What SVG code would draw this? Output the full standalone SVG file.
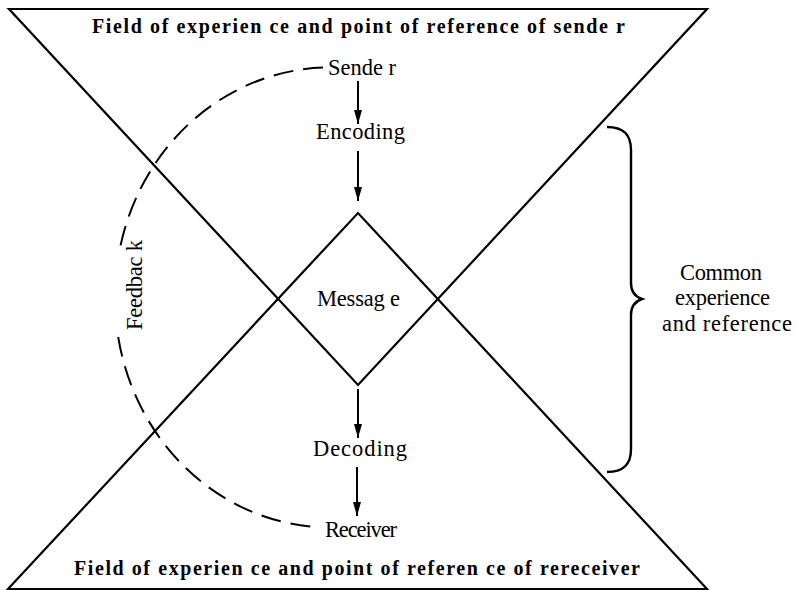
<svg xmlns="http://www.w3.org/2000/svg" width="796" height="590" viewBox="0 0 796 590">
<style>
.shape{fill:none;stroke:#000;stroke-width:2.2;stroke-linejoin:miter}
.hdr{font-family:"Liberation Serif","Times New Roman",serif;font-weight:bold;font-size:20px;fill:#000}
.lbl{font-family:"Liberation Serif","Times New Roman",serif;font-size:22.5px;fill:#000}
.conn{fill:none;stroke:#000;stroke-width:2}
.brace{fill:none;stroke:#000;stroke-width:2.4}
.dash{fill:none;stroke:#000;stroke-width:2;stroke-dasharray:20 10}
</style>
<defs>
<marker id="ah2" viewBox="0 0 14 8" refX="14" refY="4" markerWidth="14" markerHeight="8" markerUnits="userSpaceOnUse" orient="auto">
<path d="M0,0 L14,4 L0,8 z" fill="#000"/>
</marker>
</defs>
<rect width="796" height="590" fill="#fff"/>
<g id="sender-field">
<polygon class="shape" points="9,9 707,9 358,385"/>
<text class="hdr" x="92" y="33" textLength="533" lengthAdjust="spacing">Field of experien ce and point of reference of sende r</text>
</g>
<g id="receiver-field">
<polygon class="shape" points="8,589 707,589 358,213"/>
<text class="hdr" x="74" y="575" textLength="566" lengthAdjust="spacing">Field of experien ce and point of referen ce of rereceiver</text>
</g>
<g id="sender"><text class="lbl" x="328" y="75" textLength="68" lengthAdjust="spacing">Sende r</text></g>
<g id="encoding"><text class="lbl" x="316" y="139" textLength="89" lengthAdjust="spacing">Encoding</text></g>
<g id="message"><text class="lbl" x="317" y="306" textLength="83" lengthAdjust="spacing">Messag e</text></g>
<g id="decoding"><text class="lbl" x="313" y="456" textLength="94" lengthAdjust="spacing">Decoding</text></g>
<g id="receiver"><text class="lbl" x="325" y="537" textLength="72" lengthAdjust="spacing">Receiver</text></g>
<g id="common">
<path class="brace" d="M607,127 C624,127 631,135 631,150 L631,283 C631,292 636,297 642,299 C636,301 631,306 631,315 L631,449 C631,464 624,472 607,472"/>
<text class="lbl" x="680" y="280" textLength="82" lengthAdjust="spacing">Common</text>
<text class="lbl" x="675" y="305" textLength="95" lengthAdjust="spacing">experience</text>
<text class="lbl" x="662" y="331" textLength="130" lengthAdjust="spacing">and reference</text>
</g>
<g id="connectors">
<line class="conn" x1="358" y1="81" x2="358" y2="124" marker-end="url(#ah2)"/>
<line class="conn" x1="358" y1="151" x2="358" y2="201" marker-end="url(#ah2)"/>
<line class="conn" x1="358" y1="389" x2="358" y2="438" marker-end="url(#ah2)"/>
<line class="conn" x1="357" y1="467" x2="357" y2="516" marker-end="url(#ah2)"/>
<path class="dash" d="M323,67.6 A215,230 0 0 0 119.6,250"/>
<path class="dash" d="M118.2,337 A215,230 0 0 0 315,526.9"/>
<text class="lbl" transform="translate(142,330) rotate(-90)" x="0" y="0" textLength="90" lengthAdjust="spacing">Feedbac k</text>
</g>
</svg>
